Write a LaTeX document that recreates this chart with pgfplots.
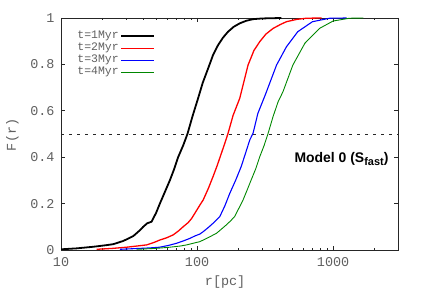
\documentclass[border=0pt]{standalone}
\usepackage{pgfplots}
\pgfplotsset{compat=1.18}
\usepackage{fontspec}
\setmainfont{Liberation Sans}
\newfontfamily\monof{Liberation Mono}
\definecolor{lblgray}{RGB}{95,95,95}
\definecolor{cgreen}{RGB}{0,135,0}
\begin{document}
\begin{tikzpicture}
\useasboundingbox (0,0) rectangle (425bp,298bp);
\begin{axis}[
  at={(61bp,48bp)}, anchor=south west,
  scale only axis, width=337bp, height=232bp,
  xmode=log, xmin=10, xmax=3000, ymin=0, ymax=1,
  xtick={10,100,1000}, xticklabels={10,100,1000},
  minor xtick={20,30,40,50,60,70,80,90,200,300,400,500,600,700,800,900,2000,3000},
  ytick={0,0.2,0.4,0.6,0.8,1}, yticklabels={0,0.2,0.4,0.6,0.8,1},
  tick align=inside,
  major tick length=4bp, minor tick length=2.3bp,
  every tick/.style={black!85, line width=0.6pt},
  axis line style={black!85, line width=0.8pt},
  /pgf/number format/assume math mode=true,
  tick label style={font=\monof\fontsize{13.5}{14}\selectfont, text=lblgray},
  yticklabel style={xshift=-3bp},
  xticklabel style={yshift=-4bp},
  xlabel={r[pc]}, ylabel={F(r)},
  label style={font=\monof\fontsize{13.5}{14}\selectfont, text=lblgray},
  xlabel style={at={(axis description cs:0.487,-0.138)}, anchor=center},
  ylabel style={at={(axis description cs:-0.1445,0.496)}, anchor=center, rotate=0},
  legend plot pos=right,
  legend cell align=left,
  legend image code/.code={\draw[#1] (0bp,0bp) -- (33bp,0bp);},
  legend style={at={(axis description cs:0.035,0.96)}, anchor=north west,
    draw=none, fill=none, font=\monof\fontsize{11.5}{12}\selectfont, text=lblgray,
    row sep=-1.5bp, nodes={inner sep=1.5bp, text height=8bp, text depth=2.5bp}},
]
\addplot[black!85, line width=0.7pt, dash pattern=on 3bp off 5bp, forget plot] coordinates {(10,0.5) (3000,0.5)};
\addplot[black, line width=1.8pt] coordinates {
(10,0.003) (13,0.007) (17.3,0.014) (21,0.02) (24.2,0.025) (28.7,0.039) (34,0.060) (38,0.085) (40.2,0.10) (43,0.115) (46.3,0.122) (50,0.16) (53.3,0.20) (58,0.25) (63.1,0.30) (68,0.35) (72.6,0.40) (79,0.45) (85,0.50) (93,0.58) (101.8,0.654) (110,0.72) (120.7,0.783) (131,0.84) (143,0.884) (155,0.915) (169,0.941) (186,0.962) (206,0.977) (230,0.988) (258,0.995) (300,0.998) (350,0.999) (417,1.0)};
\addlegendentry{t=1Myr}
\addplot[red, line width=1.3pt] coordinates {
(18.3,0.003) (24,0.007) (30.3,0.012) (36,0.017) (42.6,0.022) (48,0.032) (53.3,0.043) (60,0.053) (66.7,0.065) (73,0.082) (79,0.10) (86,0.118) (91,0.135) (96.3,0.158) (105,0.194) (111,0.216) (121,0.265) (131,0.316) (141,0.366) (151,0.417) (160,0.46) (169,0.503) (184,0.58) (206,0.654) (222,0.73) (237,0.797) (262,0.86) (289,0.898) (320,0.93) (362,0.955) (410,0.972) (454,0.984) (540,0.994) (637,0.999) (824,1.0)};
\addlegendentry{t=2Myr}
\addplot[blue, line width=1.1pt] coordinates {
(27.1,0.003) (35,0.006) (45,0.009) (53,0.012) (62,0.02) (70.7,0.029) (80,0.04) (88.5,0.05) (96,0.06) (105,0.069) (111,0.079) (121,0.097) (131,0.115) (147,0.144) (160,0.19) (174,0.244) (192,0.30) (211,0.359) (228,0.42) (244,0.474) (258,0.503) (280,0.589) (318,0.67) (384,0.797) (454,0.876) (550,0.941) (705,0.984) (944,0.999) (1257,1.0)};
\addlegendentry{t=3Myr}
\addplot[cgreen, line width=0.9pt] coordinates {
(36,0.003) (50,0.007) (63,0.012) (75,0.017) (83.8,0.022) (95,0.03) (105,0.036) (111,0.043) (125,0.058) (139,0.072) (151,0.09) (164,0.108) (176,0.125) (189,0.144) (203,0.18) (218,0.216) (234,0.26) (250,0.302) (270,0.35) (289,0.402) (311,0.45) (333,0.503) (362,0.575) (395,0.64) (428,0.682) (506,0.797) (620,0.891) (794,0.955) (1000,0.987) (1320,0.999) (1667,1.0)};
\addlegendentry{t=4Myr}
\node[anchor=base east, inner sep=0pt, font=\bfseries\fontsize{14}{14}\selectfont] at (axis cs:2560,0.376) {Model 0 (S\raisebox{-3bp}{\fontsize{11}{11}\selectfont fast})};
\end{axis}
\end{tikzpicture}
\end{document}
